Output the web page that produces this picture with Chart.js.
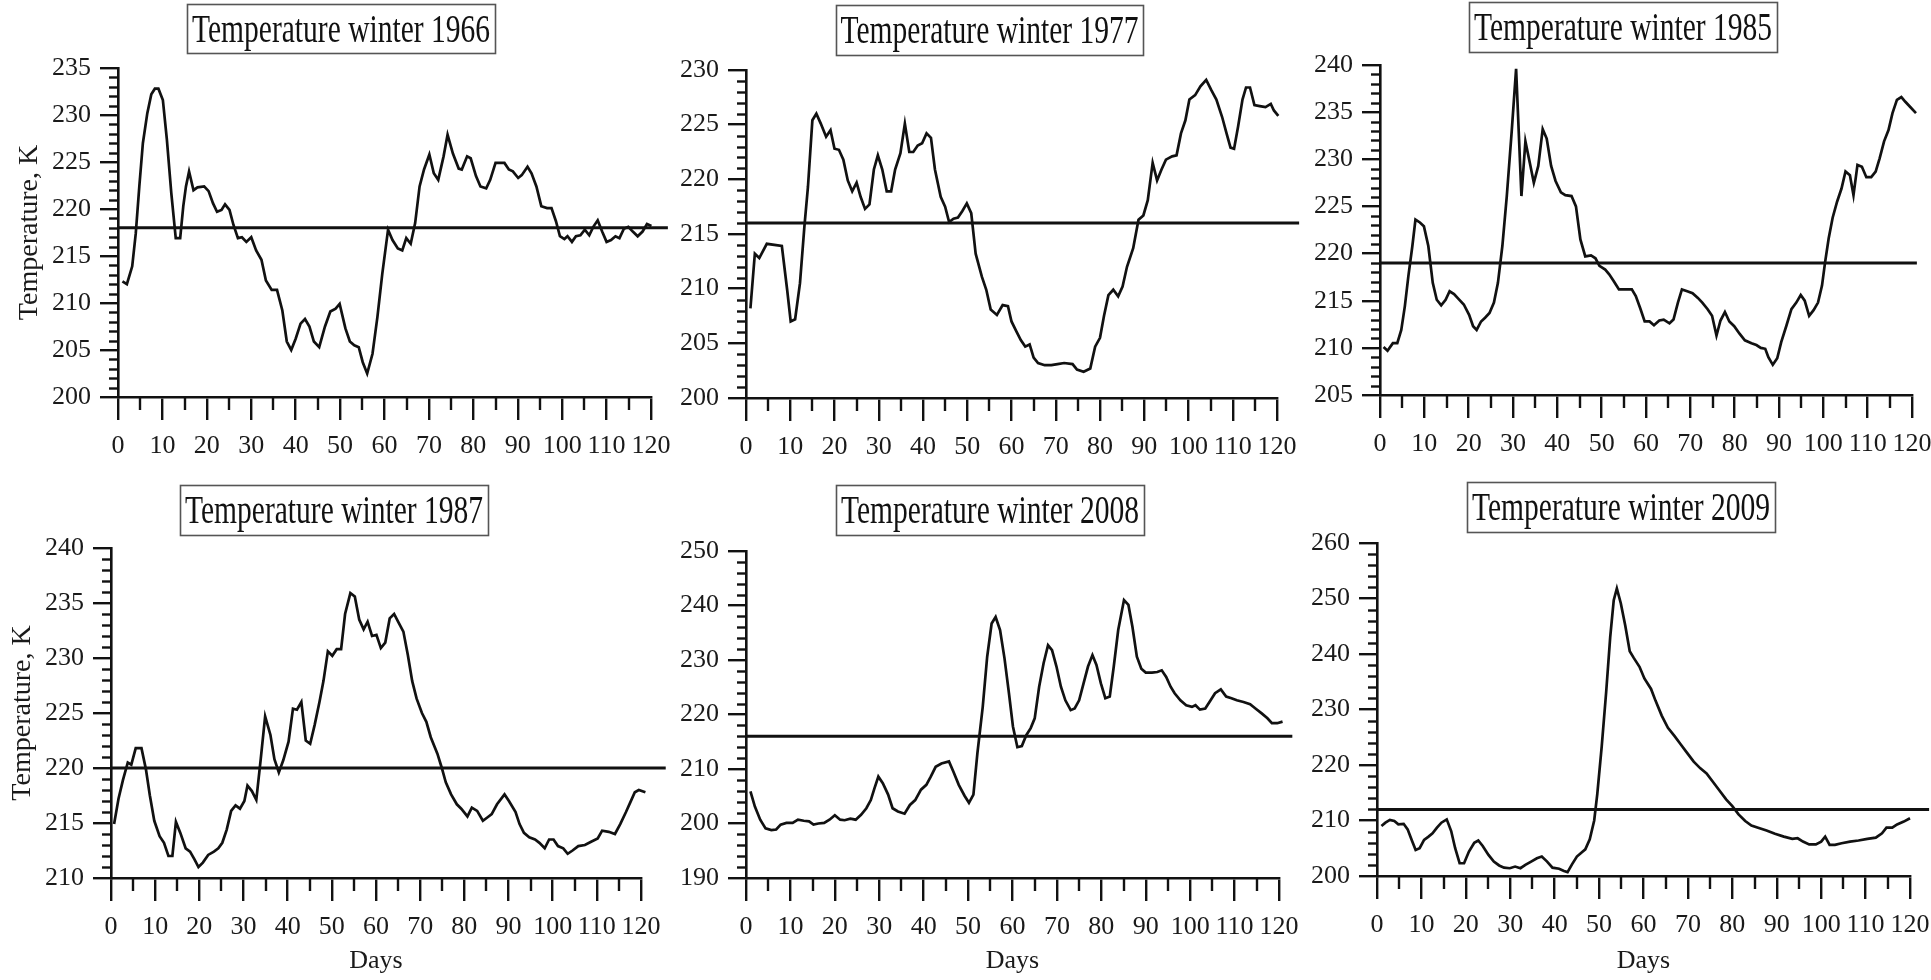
<!DOCTYPE html>
<html>
<head>
<meta charset="utf-8">
<script src="https://cdn.jsdelivr.net/npm/chart.js@4.4.1/dist/chart.umd.min.js"></script>
<style>
html,body{margin:0;padding:0;background:#fff;width:1931px;height:980px;overflow:hidden;}
canvas{position:absolute;}
</style>
</head>
<body>
<canvas id="c1966"></canvas>
<canvas id="c1977"></canvas>
<canvas id="c1985"></canvas>
<canvas id="c1987"></canvas>
<canvas id="c2008"></canvas>
<canvas id="c2009"></canvas>
<script>
// ---------- DATA ----------
const titles = ["Temperature winter 1966","Temperature winter 1977","Temperature winter 1985",
                "Temperature winter 1987","Temperature winter 2008","Temperature winter 2009"];
const xAxisTitle = "Days";
const yAxisTitle = "Temperature, K";
const xTicks = [0, 120, 10];          // min, max, step (labels 0..120)

const days1966 = [1,2,3.2,4,4.8,5.6,6.6,7.5,8.3,9.1,10.1,11,12,13,14,14.7,15.3,16,17,17.9,19.4,20.4,21.4,22.3,23.3,24.1,25.1,26,27,27.9,28.9,30,31.1,32.3,33.3,34.6,35.8,37,38,39,40,41.1,42.1,43.1,44.1,45.3,46.6,47.8,49,49.9,51.2,52.2,53.2,54.2,55.1,56.1,57.3,58.4,59.5,60.8,61.8,63,64,64.9,65.9,66.9,67.9,68.9,70.1,71.1,72.1,73.3,74.2,75.4,76.7,77.4,78.6,79.4,80.6,81.6,82.9,83.8,85,87,88,88.9,90.1,90.9,92.2,93.1,94.2,95.3,96.6,97.6,98.6,99.5,100.5,101.2,102.2,103.1,104.1,105.1,106.1,107,108,109,110,111,112,112.9,113.9,114.9,115.9,117,118.1,119.1,120.1,121.3];
const temp1966 = [212.3,212.0,213.9,217.4,222.4,227.0,230.2,232.2,232.8,232.8,231.6,227.4,221.7,216.9,216.9,220.3,222.4,224.0,222.0,222.3,222.4,221.9,220.6,219.7,219.9,220.5,219.9,218.3,216.9,217.0,216.5,217.0,215.6,214.6,212.4,211.4,211.4,209.2,205.9,205.0,206.2,207.8,208.3,207.5,205.9,205.3,207.5,209.1,209.4,209.9,207.3,205.9,205.5,205.3,203.7,202.5,204.6,208.5,213.1,217.8,216.7,215.8,215.6,216.9,216.3,218.5,222.4,224.2,225.8,223.8,223.1,225.6,227.9,225.9,224.3,224.2,225.6,225.4,223.5,222.4,222.2,223.1,224.9,224.9,224.2,224.0,223.3,223.6,224.5,223.8,222.4,220.3,220.1,220.1,218.7,217.1,216.8,217.1,216.5,217.1,217.2,217.8,217.2,218.1,218.8,217.6,216.5,216.7,217.1,216.9,217.9,218.1,217.6,217.1,217.6,218.4,218.2,217.8];

const days1977 = [1,2,3,4.7,8.1,9.3,10.1,11.1,12.2,13.2,14,15,15.9,16.9,18.1,19.1,20,21,22,23,24,25,25.9,26.9,27.9,28.9,29.8,30.8,31.8,32.8,33.7,34.9,35.9,36.9,37.8,38.8,39.8,40.8,41.8,42.7,44,45,45.9,46.9,47.9,48.9,49.9,50.9,51.9,53.3,54.3,55.3,56.7,58,59.2,60,61.1,62.1,63.1,64.1,65,66,67.5,69,70.4,71.9,73.8,74.8,76.3,77.8,78.9,80,80.9,81.9,83,84.1,85.1,86.1,87.5,88.7,89.8,90.8,91.9,92.9,93.9,94.9,96.3,97.3,98.3,99.3,100.2,101.5,102.7,104,105.1,106.3,107.6,108.6,109.5,110.3,111.2,112.2,113,113.9,114.9,116.1,117.4,118.6,119.3,120.3,121];
const temp1977 = [208.2,213.2,212.8,214.1,213.9,209.9,207.0,207.2,210.5,215.7,219.3,225.4,226.0,225.1,223.9,224.5,222.8,222.7,221.8,219.9,218.9,219.7,218.4,217.3,217.7,220.9,222.2,220.9,218.9,218.9,220.9,222.4,225.1,222.5,222.5,223.1,223.3,224.2,223.8,220.9,218.4,217.5,216.1,216.4,216.5,217.1,217.8,216.9,213.2,211.1,209.9,208.1,207.6,208.5,208.4,207.0,206.1,205.3,204.7,204.9,203.7,203.2,203.0,203.0,203.1,203.2,203.1,202.6,202.4,202.7,204.7,205.5,207.5,209.4,209.9,209.3,210.2,212.0,213.7,216.3,216.7,218.1,221.5,219.9,220.9,221.8,222.1,222.2,224.2,225.4,227.3,227.7,228.5,229.1,228.2,227.3,225.7,224.2,222.9,222.8,224.8,227.3,228.4,228.4,226.8,226.7,226.6,226.9,226.3,225.8,225.7];

const days1985 = [0.8,1.7,2.9,3.9,4.8,5.6,6.4,7.3,8,9,9.9,10.9,11.9,12.8,13.8,14.8,15.7,16.7,17.7,18.9,20.1,21,21.8,22.8,23.7,24.7,25.7,26.6,27.6,28.6,29.7,30.7,31.9,32.8,33.8,34.7,35.7,36.7,37.6,38.6,39.6,40.8,41.8,43.2,44.2,45.2,46.3,47.6,48.6,49.5,50.8,51.7,52.7,53.9,55.3,56.8,57.7,58.7,59.7,60.8,61.8,63,64,65.3,66.2,67.2,68.1,69.3,70.5,71.7,72.7,73.9,74.9,75.9,76.8,77.8,78.8,79.9,81.1,82.3,83.8,84.9,85.9,86.9,87.6,88.6,89.6,90.5,91.7,92.8,93.9,94.9,95.8,96.8,97.8,98.8,99.7,100.4,101.2,102.1,103.1,104.1,105,106,106.8,107.7,108.7,109.7,110.8,111.8,112.7,113.7,114.7,115.6,116.6,117.6,118.5,119.5,120.9];
const temp1985 = [210.1,209.7,210.5,210.5,211.9,214.4,217.6,220.8,223.6,223.3,222.9,220.8,216.9,215.1,214.5,215.1,216.0,215.7,215.2,214.6,213.5,212.3,211.9,212.8,213.2,213.7,214.8,216.9,220.8,226.1,232.9,239.6,226.1,231.9,229.6,227.5,229.3,233.2,232.2,229.3,227.7,226.5,226.2,226.1,225.0,221.5,219.7,219.8,219.5,218.7,218.3,217.8,217.1,216.2,216.2,216.2,215.5,214.2,212.8,212.8,212.4,212.9,213.0,212.6,213.0,214.8,216.2,216.0,215.8,215.3,214.8,214.1,213.4,211.3,212.9,213.8,212.8,212.3,211.5,210.8,210.5,210.3,210.0,209.9,209.0,208.2,208.9,210.6,212.4,214.1,214.8,215.6,215.0,213.4,214.0,214.8,216.6,219.1,221.6,223.8,225.5,226.9,228.7,228.3,226.2,229.4,229.2,228.1,228.1,228.7,230.1,231.9,233.1,234.9,236.3,236.6,236.1,235.6,234.9];

const days1987 = [0.7,1.7,2.7,3.8,4.6,5.6,6.9,7.9,8.8,9.8,11,12,13,13.9,14.7,15.7,16.9,17.9,18.9,19.8,20.8,22,23.3,24.3,25.2,26.2,27.2,28.2,29.2,30.2,30.9,31.9,32.9,33.9,34.9,36.1,37,38,39,40.2,41.2,42.1,43.1,44.1,45.1,46.1,47.2,48.1,49.1,50.1,51.1,52.1,53,54.2,55.2,56.2,57.2,58.1,59.1,60.1,61.1,62.1,63.1,64.1,65,66.2,67.2,68.2,69.2,70.4,71.4,72.4,73.9,74.9,75.8,77,78.3,79.3,80.7,81.7,82.9,84.2,85.2,86.2,87.4,89.1,90.1,91.6,92.5,93.5,94.7,96,97,98.2,99.2,100.2,101.2,102.4,103.4,104.5,105.8,107.3,108.7,110.2,111.2,112.7,114.1,115.3,116.6,117.6,118.6,119.5,121];
const temp1987 = [214.9,217.2,218.9,220.5,220.3,221.8,221.8,219.9,217.5,215.2,213.8,213.2,212.0,212.0,215.1,214.1,212.7,212.4,211.7,211.0,211.4,212.1,212.4,212.7,213.2,214.4,216.1,216.6,216.3,217.0,218.4,217.9,217.1,220.8,224.7,223.0,220.8,219.6,220.7,222.4,225.4,225.3,226.0,222.5,222.2,223.9,226.0,227.9,230.6,230.2,230.8,230.8,234.0,235.9,235.6,233.5,232.6,233.3,232.0,232.1,230.9,231.4,233.6,234.0,233.3,232.4,230.3,227.9,226.3,225.0,224.2,222.8,221.3,220.0,218.7,217.6,216.7,216.3,215.6,216.4,216.1,215.2,215.5,215.8,216.7,217.6,217.0,216.0,214.9,214.1,213.7,213.5,213.2,212.7,213.5,213.5,212.9,212.7,212.2,212.5,212.9,213.0,213.3,213.6,214.3,214.2,214.0,214.9,216.0,216.9,217.8,218.0,217.8];

const days2008 = [1,2,3.2,4.4,5.7,6.8,7.8,9.1,10.5,11.7,13,14.2,15.2,16.3,17.6,18.8,20,21.2,22.2,23.5,24.7,25.9,27.1,28.1,28.9,29.8,30.8,32,33,34.2,35.7,36.9,38.1,39.4,40.6,41.6,42.7,44,45.7,46.7,47.9,49.2,50.2,51.2,52.1,53.3,54.3,55.3,56.2,57.2,58.2,59.2,60.1,61.1,62.1,63.1,64.1,65,66,67,68,68.9,69.9,70.9,71.9,73.1,74,75,76,77,78,78.9,79.9,80.9,81.9,82.8,83.8,85.1,86.1,87,88,89,90,91.4,92.6,93.6,94.6,95.6,96.5,97.8,99.1,100.4,101.2,102.2,103.4,104.6,105.6,106.9,108.1,109.3,110.5,112,113.5,114.7,116.1,117.4,118.4,119.6,120.8];
const temp2008 = [205.9,203.1,200.7,199.1,198.8,198.9,199.8,200.1,200.1,200.7,200.5,200.4,199.8,200.0,200.1,200.7,201.5,200.7,200.6,200.9,200.7,201.6,202.8,204.3,206.4,208.6,207.4,205.3,202.8,202.2,201.8,203.4,204.3,206.2,207.1,208.6,210.4,211.0,211.4,209.5,207.1,205.1,203.8,205.3,212.9,221.4,230.6,236.7,237.9,235.5,230.3,223.9,217.8,214.0,214.2,216.2,217.5,219.3,225.1,229.4,232.7,231.8,228.8,225.1,222.6,220.8,221.1,222.6,225.7,228.8,230.9,229.1,225.7,223.0,223.3,228.8,235.5,241.0,240.1,236.1,230.6,228.4,227.7,227.7,227.8,228.1,226.9,225.1,223.9,222.6,221.7,221.4,221.7,220.9,221.1,222.6,223.9,224.6,223.3,223.0,222.6,222.3,221.9,221.1,220.2,219.3,218.4,218.4,218.7];

const days2009 = [1,1.9,2.9,3.9,4.8,6,6.9,7.9,8.7,9.6,10.6,11.6,12.5,13.5,14.5,15.7,16.7,17.6,18.6,19.6,20.7,21.9,22.8,23.8,25.1,26.3,27.5,28.6,29.9,31.1,32.3,33.4,34.7,36,37.1,38.3,39.5,41,42.1,42.9,43.9,45,46,46.9,47.9,48.9,49.6,50.6,51.6,52.5,53.3,54,54.9,55.9,56.9,57.8,59.1,60.2,61.7,62.7,64.1,65.5,67,68.4,69.9,71.3,72.8,74.2,75.7,77.1,78.6,80,81.4,82.9,84.3,85.8,87.7,89.6,91.6,93.5,94.7,95.9,97.3,98.8,100,100.9,101.9,103.1,104.6,106.5,108.4,110.4,112.3,113.7,114.7,116,117.1,118.6,120,121];
const temp2009 = [209.0,209.6,210.1,209.9,209.3,209.4,208.4,206.3,204.7,205.0,206.5,207.1,207.7,208.7,209.6,210.2,208.1,205.0,202.3,202.3,204.4,206.0,206.4,205.4,203.8,202.6,201.9,201.5,201.4,201.7,201.4,202.0,202.6,203.2,203.5,202.6,201.5,201.3,200.9,200.7,202.1,203.5,204.2,204.8,206.6,210.0,214.8,223.4,233.2,243.0,249.7,251.8,249.1,245.1,240.5,239.3,237.7,235.6,233.7,231.6,228.9,226.7,225.2,223.7,222.1,220.6,219.4,218.5,216.9,215.4,213.8,212.6,211.1,209.9,209.1,208.7,208.2,207.6,207.1,206.7,206.8,206.2,205.7,205.7,206.2,207.1,205.6,205.6,205.9,206.2,206.4,206.7,206.9,207.7,208.7,208.7,209.3,209.8,210.4,210.7];

// mean (horizontal reference) lines: level and right end in days
const meanLevels = [218, 216, 219, 220, 216, 212];
const meanEnds   = [123.8, 125, 121.1, 125.6, 123, 124.3];

// y-axis tick ranges: [min, max, major step, minor step]
const yAxis1966 = [200, 235, 5, 1];
const yAxis1977 = [200, 230, 5, 1];
const yAxis1985 = [205, 240, 5, 1];
const yAxis1987 = [210, 240, 5, 1];
const yAxis2008 = [190, 250, 10, 2];
const yAxis2009 = [200, 260, 10, 2];

// ---------- LAYOUT ----------
Chart.defaults.font.family = '"Liberation Serif", "Times New Roman", serif';
Chart.defaults.color = '#1a1a1a';

const panels = [
  {id:'c1966', title:titles[0], days:days1966, temps:temp1966, yAxis:yAxis1966, m:0,
   canvas:[0,0,675,480], yWidth:118, xHeight:83, padTop:68, padRight:24,
   box:[341,28.5,308,49], yTitle:true, yTitlePad:13, xTitle:false},
  {id:'c1977', title:titles[1], days:days1977, temps:temp1977, yAxis:yAxis1977, m:1,
   canvas:[675,0,631,480], yWidth:71, xHeight:82, padTop:70, padRight:29,
   box:[314.5,30,307,50], yTitle:false, xTitle:false},
  {id:'c1985', title:titles[2], days:days1985, temps:temp1985, yAxis:yAxis1985, m:2,
   canvas:[1306,0,625,480], yWidth:74, xHeight:85, padTop:65, padRight:19,
   box:[317,27,308,50], yTitle:false, xTitle:false},
  {id:'c1987', title:titles[3], days:days1987, temps:temp1987, yAxis:yAxis1987, m:3,
   canvas:[0,480,675,500], yWidth:111, xHeight:102, padTop:68, padRight:34,
   box:[334,30,308,50], yTitle:true, yTitlePad:6, xTitle:true},
  {id:'c2008', title:titles[4], days:days2008, temps:temp2008, yAxis:yAxis2008, m:4,
   canvas:[675,480,631,500], yWidth:71, xHeight:102, padTop:71, padRight:27,
   box:[315,30,308,50], yTitle:false, xTitle:true},
  {id:'c2009', title:titles[5], days:days2009, temps:temp2009, yAxis:yAxis2009, m:5,
   canvas:[1306,480,625,500], yWidth:71, xHeight:104, padTop:63, padRight:21,
   box:[315,27,308,50], yTitle:false, xTitle:true}
];

const INK = '#111';

const decorPlugin = {
  id: 'decor',
  afterDraw(chart, args, opts) {
    const ctx = chart.ctx;
    const xs = chart.scales.x, ys = chart.scales.y;
    const area = chart.chartArea;
    ctx.save();
    ctx.strokeStyle = INK;
    ctx.lineWidth = 2.4;
    // minor ticks on y axis (outside, to the left)
    const nMinor = Math.round((ys.max - ys.min) / opts.yMinor);
    for (let i = 1; i < nMinor; i++) {
      const v = ys.min + i * opts.yMinor;
      const r = v / opts.yMajor;
      if (Math.abs(r - Math.round(r)) < 1e-6) continue;
      const py = Math.round(ys.getPixelForValue(v)) + 0.5;
      ctx.beginPath();
      ctx.moveTo(area.left - 9, py);
      ctx.lineTo(area.left, py);
      ctx.stroke();
    }
    // minor ticks on x axis (5, 15, ...)
    for (let v = xs.min + 5; v < xs.max; v += 10) {
      const px = Math.round(xs.getPixelForValue(v));
      ctx.beginPath();
      ctx.moveTo(px, area.bottom);
      ctx.lineTo(px, area.bottom + 13);
      ctx.stroke();
    }
    // boxed title
    const b = opts.box;
    ctx.lineWidth = 1.6;
    ctx.strokeStyle = '#555';
    ctx.strokeRect(Math.round(b[0] - b[2] / 2) + 0.5, Math.round(b[1] - b[3] / 2) + 0.5, b[2], b[3]);
    ctx.font = '40px "Liberation Serif", "Times New Roman", serif';
    const tw = ctx.measureText(opts.text).width;
    const sx = 298 / tw;
    ctx.translate(b[0], b[1] + 13);
    ctx.scale(sx, 1);
    ctx.fillStyle = INK;
    ctx.textAlign = 'center';
    ctx.textBaseline = 'alphabetic';
    ctx.fillText(opts.text, 0, 0);
    ctx.restore();
  }
};

function makeChart(p) {
  const cv = document.getElementById(p.id);
  cv.width = p.canvas[2];
  cv.height = p.canvas[3];
  cv.style.left = p.canvas[0] + 'px';
  cv.style.top = p.canvas[1] + 'px';
  const series = p.days.map((d, i) => ({x: d, y: p.temps[i]}));
  const meanLine = [{x: 0, y: meanLevels[p.m]}, {x: meanEnds[p.m], y: meanLevels[p.m]}];
  const gridCfg = (len) => ({drawOnChartArea: false, drawTicks: true, tickLength: len,
                             tickWidth: 2.4, tickColor: INK, color: INK, lineWidth: 2.4});
  const borderCfg = {display: true, color: INK, width: 2.6};
  new Chart(cv, {
    type: 'line',
    data: {datasets: [
      {label: p.title, data: series, borderColor: INK, borderWidth: 2.7, pointRadius: 0,
       tension: 0, fill: false, clip: false},
      {label: 'mean', data: meanLine, borderColor: INK, borderWidth: 3, pointRadius: 0,
       fill: false, clip: false}
    ]},
    options: {
      responsive: false,
      animation: false,
      devicePixelRatio: 1,
      events: [],
      layout: {autoPadding: false, padding: {left: 0, top: p.padTop, right: p.padRight, bottom: 0}},
      plugins: {
        legend: {display: false},
        tooltip: {enabled: false},
        title: {display: false},
        decor: {box: p.box, text: p.title, yMinor: p.yAxis[3], yMajor: p.yAxis[2]}
      },
      scales: {
        x: {
          type: 'linear', min: xTicks[0], max: xTicks[1],
          ticks: {stepSize: xTicks[2], autoSkip: false, maxRotation: 0, minRotation: 0,
                  padding: 11, color: '#1a1a1a', font: {size: 26}},
          grid: gridCfg(23),
          border: borderCfg,
          title: {display: p.xTitle, text: xAxisTitle, color: '#1a1a1a', font: {size: 26},
                  padding: {top: 0, bottom: 3}},
          afterFit: (s) => { s.height = p.xHeight; s.paddingLeft = 0; s.paddingRight = 0; }
        },
        y: {
          type: 'linear', min: p.yAxis[0], max: p.yAxis[1],
          ticks: {stepSize: p.yAxis[2], padding: 9, color: '#1a1a1a', font: {size: 26}},
          grid: gridCfg(18),
          border: borderCfg,
          title: {display: p.yTitle, text: yAxisTitle, color: '#1a1a1a', font: {size: 28},
                  padding: {top: p.yTitlePad || 0, bottom: 0}},
          afterFit: (s) => { s.width = p.yWidth; s.paddingTop = 0; s.paddingBottom = 0; }
        }
      }
    },
    plugins: [decorPlugin]
  });
}

panels.forEach(makeChart);
</script>
</body>
</html>
